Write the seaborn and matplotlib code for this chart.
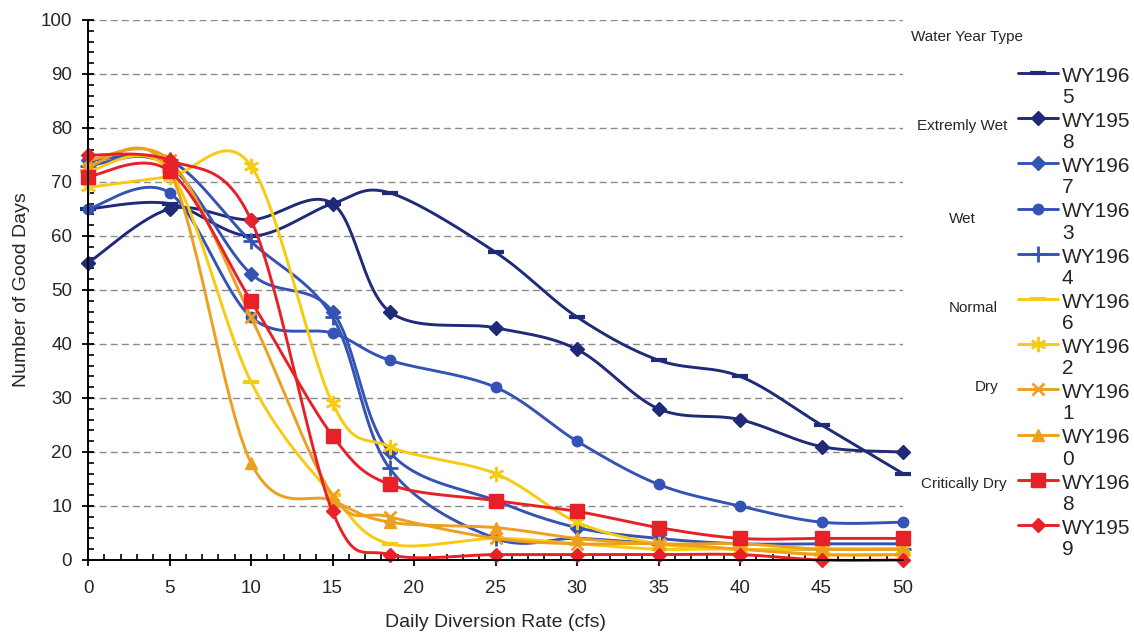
import numpy as np
import matplotlib
matplotlib.use("Agg")
import matplotlib.pyplot as plt
from matplotlib.lines import Line2D
from matplotlib.ticker import MultipleLocator
import seaborn as sns

# daily diversion rate (cfs) and number of good days per water year
rate = [0, 5, 10, 15, 18.5, 25, 30, 35, 40, 45, 50]

wy1965 = [65, 66, 60, 66, 68, 57, 45, 37, 34, 25, 16]
wy1958 = [55, 65, 63, 66, 46, 43, 39, 28, 26, 21, 20]
wy1967 = [74, 73, 53, 46, 20, 11, 6, 4, 3, 3, 3]
wy1963 = [65, 68, 45, 42, 37, 32, 22, 14, 10, 7, 7]
wy1964 = [73, 74, 59, 45, 17, 4, 4, 3, 2, 2, 2]
wy1966 = [72, 72, 33, 12, 3, 4, 3, 2, 2, 1, 1]
wy1962 = [69, 71, 73, 29, 21, 16, 7, 3, 2, 2, 2]
wy1961 = [74, 74, 45, 12, 8, 4, 3, 3, 2, 1, 1]
wy1960 = [73, 72, 18, 11, 7, 6, 4, 3, 3, 2, 2]
wy1968 = [71, 72, 48, 23, 14, 11, 9, 6, 4, 4, 4]
wy1959 = [75, 74, 63, 9, 1, 1, 1, 1, 1, 0, 0]

years = ["WY1965", "WY1958", "WY1967", "WY1963", "WY1964", "WY1966",
         "WY1962", "WY1961", "WY1960", "WY1968", "WY1959"]
values = [wy1965, wy1958, wy1967, wy1963, wy1964, wy1966,
          wy1962, wy1961, wy1960, wy1968, wy1959]

navy = "#1f2a78"
blue = "#3553b5"
yellow = "#f7cb12"
orange = "#eda020"
red = "#e82128"
# colour, marker, marker size, marker edge width
styles = [(navy, "_", 11, 3), (navy, "D", 7, 1), (blue, "D", 7, 1),
          (blue, "o", 7.5, 1), (blue, "+", 11, 2), (yellow, "_", 11, 3),
          (yellow, (6, 2, 0), 11, 1.8), (orange, "x", 9, 2), (orange, "^", 9, 1),
          (red, "s", 9.5, 1), (red, "D", 7.5, 1)]

groups = ["Extremly Wet", "Wet", "Normal", "Dry", "Critically Dry"]
group_pos = [(962, 126), (962, 219), (973, 308), (987, 387), (964, 484)]

W, H = 1134, 636
SX, SY = 16.3, 5.4  # px per data unit, used for excel-like smoothing


def smooth(xs, ys, n=30):
    # catmull-rom style bezier through the points (like excel smoothed lines)
    p = np.column_stack([np.asarray(xs, float) * SX, np.asarray(ys, float) * SY])
    pts = np.vstack([p[0], p, p[-1]])
    t = np.linspace(0, 1, n)[:, None]
    out = []
    for i in range(1, len(pts) - 2):
        p0, p1, p2, p3 = pts[i - 1], pts[i], pts[i + 1], pts[i + 2]
        b1 = p1 + (p2 - p0) / 6
        b2 = p2 - (p3 - p1) / 6
        seg = (1 - t)**3 * p1 + 3 * (1 - t)**2 * t * b1 + 3 * (1 - t) * t**2 * b2 + t**3 * p2
        out.append(seg if i == 1 else seg[1:])
    c = np.vstack(out)
    return c[:, 0] / SX, c[:, 1] / SY


sns.set_style("white")
plt.rcParams["font.family"] = ["Liberation Sans", "DejaVu Sans"]

fig = plt.figure(figsize=(W / 100, H / 100), dpi=100)
ax = fig.add_axes([88 / W, 1 - 560 / H, (903 - 88) / W, 540 / H])

for name, vals, (col, mk, ms, mew) in zip(years, values, styles):
    cx, cy = smooth(rate, vals)
    sns.lineplot(x=cx, y=cy, sort=False, estimator=None, color=col, lw=2.1,
                 ax=ax, clip_on=False)
    ax.plot(rate, vals, ls="none", marker=mk, ms=ms, mew=mew, color=col,
            mec=col, clip_on=False)

ax.set_xlim(0, 50)
ax.set_ylim(0, 100)
ax.xaxis.set_major_locator(MultipleLocator(5))
ax.xaxis.set_minor_locator(MultipleLocator(1))
ax.yaxis.set_major_locator(MultipleLocator(10))
ax.yaxis.set_minor_locator(MultipleLocator(2))
ax.grid(axis="y", which="major", color="#8a8a8a", lw=1, ls=(0, (5, 3)))
ax.set_axisbelow(True)
for s in ["top", "right"]:
    ax.spines[s].set_visible(False)
for s in ["left", "bottom"]:
    ax.spines[s].set_color("black")
    ax.spines[s].set_linewidth(1.4)
ax.tick_params(which="major", direction="inout", length=9, width=1.3,
               labelsize=13.5, color="black", left=True, bottom=True)
ax.tick_params(axis="x", which="major", pad=10)
ax.tick_params(axis="y", which="major", pad=7)
ax.tick_params(which="minor", direction="in", length=4.5, width=1.2,
               color="black", left=True, bottom=True)
ax.set_xlabel("Daily Diversion Rate (cfs)", fontsize=14, labelpad=12)
ax.set_ylabel("Number of Good Days", fontsize=14, labelpad=8)


def fx(px):
    return px / W


def fy(py):
    return 1 - py / H


# legend with the water year type labels
fig.text(fx(967), fy(37), "Water Year Type", fontsize=11, ha="center", va="center")
for g, (gx, gy) in zip(groups, group_pos):
    fig.text(fx(gx), fy(gy), g, fontsize=11, ha="center", va="center")

for i, (name, (col, mk, ms, mew)) in enumerate(zip(years, styles)):
    hy = 73 + 45.2 * i
    fig.add_artist(Line2D([fx(1018), fx(1058)], [fy(hy), fy(hy)], color=col, lw=2.1))
    fig.add_artist(Line2D([fx(1038)], [fy(hy)], ls="none", marker=mk, ms=ms,
                          mew=mew, color=col, mec=col))
    fig.text(fx(1062), fy(hy + 30), name[:5] + "\n" + name[5:], fontsize=15,
             ha="left", va="baseline", linespacing=1.15)

fig.savefig("out.png", dpi=100)
